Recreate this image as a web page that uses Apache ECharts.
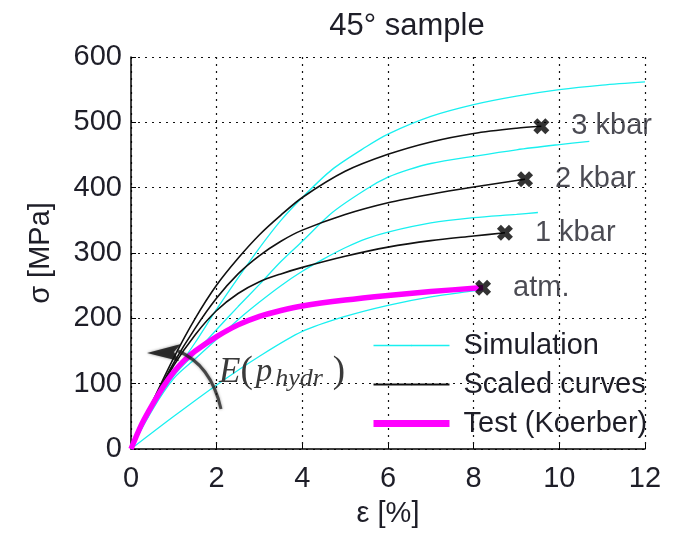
<!DOCTYPE html>
<html>
<head>
<meta charset="utf-8">
<script src="https://cdn.jsdelivr.net/npm/echarts@6/dist/echarts.min.js"></script>
<style>
  html, body { margin: 0; padding: 0; background: #fff; }
  #chart { width: 677px; height: 533px; }
</style>
</head>
<body>
<div id="chart"></div>
<script>
// Strain ε [%] vs stress σ [MPa], pairs [ε, σ]
const simAtm = [[0,0],[1,50],[2,98],[3,142],[4,180],[5,203],[6,220],[7,233],[8,242],[8.2,244]];
const sim1kbar = [[0,0],[0.5,60],[1,108],[1.5,138],[2,168],[2.5,198],[3,225],[3.5,250],[4,272],[4.5,291],[5,308],[5.5,322],[6,332],[7,346],[8,354],[9,359],[9.5,362]];
const sim2kbar = [[0,0],[0.5,62],[1,112],[1.5,147],[2,183],[2.5,218],[3,252],[3.5,287],[4,318],[4.7,362],[5.5,398],[6,416],[6.5,428],[7,437],[8,448],[9,458],[10,466],[10.7,471]];
const sim3kbar = [[0,0],[0.5,62],[1,115],[1.5,163],[2,214],[2.5,262],[3,308],[3.5,350],[4,385],[4.7,428],[5.5,463],[6,482],[7,509],[8,527],[9,540],[10,550],[11,557],[12,562]];

const scaled1kbar = [[0,0],[0.5,68],[1,128],[1.5,175],[2,212],[2.5,238],[3,256],[3.5,268],[4,278],[5,295],[6,309],[7,319],[8,326],[8.73,331]];
const scaled2kbar = [[0,0],[0.5,70],[1,132],[1.5,185],[2,231],[2.5,268],[3,296],[3.5,318],[4,335],[5,359],[6,377],[7,390],[8,401],[9,411],[9.2,413]];
const scaled3kbar = [[0,0],[0.5,72],[1,140],[1.5,200],[2,251],[2.5,292],[3,328],[3.5,358],[4,385],[5,425],[6,451],[7,470],[8,483],[9,491],[9.58,494]];

const testKoerber = [[0,0],[0.25,38],[0.5,68],[0.75,95],[1,118],[1.25,136],[1.5,150],[2,172],[2.5,190],[3,203],[3.5,212],[4,219],[5,228],[6,235],[7,241],[8,246],[8.22,247]];

const endLabels = ['3 kbar', '2 kbar', '1 kbar', 'atm.'];
const endPoints = [scaled3kbar, scaled2kbar, scaled1kbar, testKoerber].map(c => c[c.length - 1]);

const xTicks = { min: 0, max: 12, interval: 2 };
const yTicks = { min: 0, max: 600, interval: 100 };

const FONT = '"Liberation Sans", Arial, sans-serif';
const SERIF = '"Liberation Serif", "DejaVu Serif", serif';
const TEXT = '#1e1e28';
const CYAN = '#19f0f0';
const MAGENTA = '#ff00ff';

// bold "x" marker at the end of each scaled curve
const crossPath = 'path://M0,2.5 L2.5,0 L5,2.5 L7.5,0 L10,2.5 L7.5,5 L10,7.5 L7.5,10 L5,7.5 L2.5,10 L0,7.5 L2.5,5 Z';

function lineSeries(name, data, color, width, z) {
  return {
    name: name, type: 'line', data: data,
    smooth: 0.3,
    symbol: 'none', z: z,
    lineStyle: { color: color, width: width },
    itemStyle: { color: color }
  };
}

const gridLine = { show: true, lineStyle: { color: '#111', type: [2, 5], width: 1.2 } };

const chart = echarts.init(document.getElementById('chart'));
chart.setOption({
  animation: false,
  title: {
    text: '45° sample', left: 402, top: 6, textAlign: 'center',
    textStyle: { fontFamily: FONT, fontSize: 31, fontWeight: 'normal', color: TEXT }
  },
  grid: { left: 131, right: 32, top: 57, bottom: 80 },
  xAxis: {
    type: 'value', min: xTicks.min, max: xTicks.max, interval: xTicks.interval,
    name: 'ε [%]', nameLocation: 'middle', nameGap: 50,
    nameTextStyle: { fontFamily: FONT, fontSize: 29, color: TEXT },
    axisLine: { show: true, lineStyle: { color: '#000', width: 1.5 } },
    axisTick: { show: true, inside: true, length: 5, lineStyle: { color: '#000' } },
    axisLabel: { margin: 15, fontFamily: FONT, fontSize: 29, color: TEXT },
    splitLine: gridLine
  },
  yAxis: {
    type: 'value', min: yTicks.min, max: yTicks.max, interval: yTicks.interval,
    name: 'σ [MPa]', nameLocation: 'middle', nameGap: 76, nameRotate: 90,
    nameTextStyle: { fontFamily: FONT, fontSize: 29, color: TEXT },
    axisLine: { show: true, lineStyle: { color: '#000', width: 1.5 } },
    axisTick: { show: true, inside: true, length: 5, lineStyle: { color: '#000' } },
    axisLabel: { margin: 9, fontFamily: FONT, fontSize: 29, color: TEXT },
    splitLine: gridLine
  },
  legend: {
    data: [
      { name: 'Simulation', lineStyle: { width: 1.5 } },
      { name: 'Scaled curves', lineStyle: { width: 2 } },
      { name: 'Test (Koerber)', lineStyle: { width: 7 } }
    ],
    orient: 'vertical', left: 365, top: 326,
    itemWidth: 76, itemHeight: 2, itemGap: 10,
    textStyle: { fontFamily: FONT, fontSize: 29, color: TEXT, padding: [0, 0, 0, 9] },
    backgroundColor: 'transparent'
  },
  series: [
    lineSeries('Simulation', simAtm, CYAN, 1.3, 2),
    lineSeries('Simulation', sim1kbar, CYAN, 1.3, 2),
    lineSeries('Simulation', sim2kbar, CYAN, 1.3, 2),
    lineSeries('Simulation', sim3kbar, CYAN, 1.3, 2),
    lineSeries('Scaled curves', scaled1kbar, '#111', 1.6, 3),
    lineSeries('Scaled curves', scaled2kbar, '#111', 1.6, 3),
    lineSeries('Scaled curves', scaled3kbar, '#111', 1.6, 3),
    lineSeries('Test (Koerber)', testKoerber, MAGENTA, 5.5, 4),
    {
      name: 'end', type: 'scatter', z: 5,
      data: endPoints,
      symbol: crossPath, symbolSize: 16,
      itemStyle: { color: '#000' },
      label: {
        show: true, position: 'right', distance: 22,
        formatter: p => endLabels[p.dataIndex],
        fontFamily: FONT, fontSize: 29, color: TEXT
      }
    }
  ],
  graphic: [
    {
      type: 'bezierCurve', z: 10,
      shape: { x1: 221, y1: 409, x2: 178, y2: 351, cpx1: 214, cpy1: 378, cpx2: 200, cpy2: 360 },
      style: { stroke: 'rgba(30,30,30,0.75)', lineWidth: 3, fill: null, shadowBlur: 3, shadowColor: 'rgba(0,0,0,0.5)' }
    },
    {
      type: 'polygon', z: 10,
      shape: { points: [[147, 353], [181, 344], [174, 352], [179, 361]] },
      style: { fill: 'rgba(20,20,20,0.85)', shadowBlur: 3, shadowColor: 'rgba(0,0,0,0.5)' }
    },
    {
      type: 'text', z: 10, left: 219, top: 354,
      style: {
        text: '{e|E}{p|(}{v|p}{s|hydr}{q|)}',
        rich: {
          e: { fontFamily: SERIF, fontStyle: 'italic', fontSize: 35, fill: '#3a3a3a' },
          p: { fontFamily: SERIF, fontSize: 37, fill: '#3a3a3a' },
          v: { fontFamily: SERIF, fontStyle: 'italic', fontSize: 33, fill: '#3a3a3a', padding: [0, 0, 0, 3] },
          s: { fontFamily: SERIF, fontStyle: 'italic', fontSize: 26, fill: '#3a3a3a', padding: [14, 0, 0, 3] },
          q: { fontFamily: SERIF, fontSize: 37, fill: '#3a3a3a', padding: [0, 0, 0, 10] }
        }
      }
    }
  ]
});
</script>
</body>
</html>
